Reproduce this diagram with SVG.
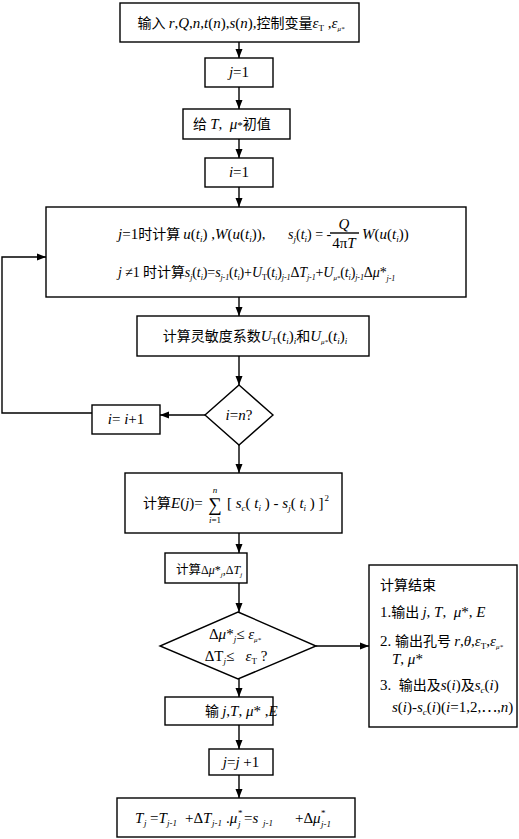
<svg xmlns="http://www.w3.org/2000/svg" width="519" height="839" viewBox="0 0 519 839">
<defs>
<marker id="ah" markerWidth="10" markerHeight="8" refX="9" refY="4" orient="auto" markerUnits="userSpaceOnUse">
<path d="M0,0.5 L9,4 L0,7.5 Z" fill="#000"/>
</marker>
<style>
.box{fill:#fff;stroke:#000;stroke-width:1.4}
.ln{fill:none;stroke:#000;stroke-width:1.4}
.t{font-family:"Liberation Serif","Noto Sans CJK SC",serif;font-size:15px;fill:#000}
.cn{font-family:"Noto Sans CJK SC","Liberation Serif",sans-serif;font-size:14px}
.i{font-style:italic}
.s{font-size:9px}
.s8{font-size:8px}
.s7{font-size:7px}
.m{font-size:14px}
</style>
</defs>
<rect width="519" height="839" fill="#fff"/>
<g id="connectors">
<line class="ln" x1="239" y1="42" x2="239" y2="58" marker-end="url(#ah)"/>
<line class="ln" x1="239" y1="87" x2="239" y2="109" marker-end="url(#ah)"/>
<line class="ln" x1="239" y1="139" x2="239" y2="158" marker-end="url(#ah)"/>
<line class="ln" x1="239" y1="187" x2="239" y2="207" marker-end="url(#ah)"/>
<line class="ln" x1="239" y1="297" x2="239" y2="316" marker-end="url(#ah)"/>
<line class="ln" x1="239" y1="356" x2="239" y2="385" marker-end="url(#ah)"/>
<line class="ln" x1="205" y1="415" x2="160" y2="415" marker-end="url(#ah)"/>
<polyline class="ln" points="92,413 2,413 2,257 46,257" marker-end="url(#ah)"/>
<line class="ln" x1="239" y1="445" x2="239" y2="473" marker-end="url(#ah)"/>
<line class="ln" x1="239" y1="533" x2="239" y2="553" marker-end="url(#ah)"/>
<line class="ln" x1="239" y1="583" x2="239" y2="612" marker-end="url(#ah)"/>
<line class="ln" x1="316" y1="646" x2="369" y2="646" marker-end="url(#ah)"/>
<line class="ln" x1="239" y1="679" x2="239" y2="697" marker-end="url(#ah)"/>
<line class="ln" x1="239" y1="725" x2="239" y2="749" marker-end="url(#ah)"/>
<line class="ln" x1="239" y1="775" x2="239" y2="798" marker-end="url(#ah)"/>
</g>
<g id="n1">
<rect class="box" x="120" y="3" width="239" height="39"/>
<text class="t" x="241" y="28" text-anchor="middle"><tspan class="cn">输入 </tspan><tspan class="i">r</tspan>,<tspan class="i">Q</tspan>,<tspan class="i">n</tspan>,<tspan class="i">t</tspan>(<tspan class="i">n</tspan>),<tspan class="i">s</tspan>(<tspan class="i">n</tspan>),<tspan class="cn">控制变量</tspan><tspan class="i">ε</tspan><tspan class="s" dy="3">T</tspan><tspan dy="-3"> ,</tspan><tspan class="i">ε</tspan><tspan class="s7 i" dy="3">μ*</tspan></text>
</g>
<g id="n2">
<rect class="box" x="205" y="58" width="68" height="29"/>
<text class="t" x="239" y="77" text-anchor="middle"><tspan class="i">j</tspan>=1</text>
</g>
<g id="n3">
<rect class="box" x="183" y="109" width="107" height="30"/>
<text class="t" x="193" y="129"><tspan class="cn">给 </tspan><tspan class="i">T</tspan>,&#160;&#160;<tspan class="i">μ</tspan><tspan style="font-size:11px">*</tspan><tspan class="cn">初值</tspan></text>
</g>
<g id="n4">
<rect class="box" x="205" y="158" width="68" height="29"/>
<text class="t" x="239" y="177" text-anchor="middle"><tspan class="i">i</tspan>=1</text>
</g>
<g id="n5">
<rect class="box" x="46" y="207" width="420" height="90"/>
<text class="t" x="118" y="239"><tspan class="i">j</tspan>=1<tspan class="cn">时计算 </tspan><tspan class="i">u</tspan>(<tspan class="i">t</tspan><tspan class="s i" dy="3">i</tspan><tspan dy="-3">) ,</tspan><tspan class="i">W</tspan>(<tspan class="i">u</tspan>(<tspan class="i">t</tspan><tspan class="s i" dy="3">i</tspan><tspan dy="-3">)),</tspan></text>
<text class="t m" x="288" y="239"><tspan class="i">s</tspan><tspan class="s i" dy="3">j</tspan><tspan dy="-3">(</tspan><tspan class="i">t</tspan><tspan class="s i" dy="3">i</tspan><tspan dy="-3">) = -</tspan></text>
<text class="t" x="344" y="229" text-anchor="middle"><tspan class="i">Q</tspan></text>
<line class="ln" x1="330" y1="233" x2="359" y2="233" stroke-width="1"/>
<text class="t" x="344" y="248" text-anchor="middle">4π<tspan class="i">T</tspan></text>
<text class="t" x="362" y="239"><tspan class="i">W</tspan>(<tspan class="i">u</tspan>(<tspan class="i">t</tspan><tspan class="s i" dy="3">i</tspan><tspan dy="-3">))</tspan></text>
<text class="t m" x="118" y="277" letter-spacing="-0.1"><tspan class="i">j</tspan> ≠1 <tspan class="cn">时计算</tspan><tspan class="i">s</tspan><tspan class="s8 i" dy="3">j</tspan><tspan dy="-3">(</tspan><tspan class="i">t</tspan><tspan class="s8 i" dy="3">i</tspan><tspan dy="-3">)=</tspan><tspan class="i">s</tspan><tspan class="s8 i" dy="3">j-1</tspan><tspan dy="-3">(</tspan><tspan class="i">t</tspan><tspan class="s8 i" dy="3">i</tspan><tspan dy="-3">)+</tspan><tspan class="i">U</tspan><tspan class="s8" dy="3">T</tspan><tspan dy="-3">(</tspan><tspan class="i">t</tspan><tspan class="s8 i" dy="3">i</tspan><tspan dy="-3">)</tspan><tspan class="s8 i" dy="3">j-1</tspan><tspan dy="-3">Δ</tspan><tspan class="i">T</tspan><tspan class="s8 i" dy="3">j-1</tspan><tspan dy="-3">+</tspan><tspan class="i">U</tspan><tspan class="s7 i" dy="3">μ*</tspan><tspan dy="-3">(</tspan><tspan class="i">t</tspan><tspan class="s8 i" dy="3">i</tspan><tspan dy="-3">)</tspan><tspan class="s8 i" dy="3">j-1</tspan><tspan dy="-3">Δ</tspan><tspan class="i">μ</tspan>*<tspan class="s8 i" dy="4">j-1</tspan></text>
</g>
<g id="n6">
<rect class="box" x="137" y="316" width="232" height="40"/>
<text class="t" x="255" y="341" text-anchor="middle"><tspan class="cn">计算灵敏度系数</tspan><tspan class="i">U</tspan><tspan class="s" dy="3">T</tspan><tspan dy="-3">(</tspan><tspan class="i">t</tspan><tspan class="s i" dy="3">i</tspan><tspan dy="-3">)</tspan><tspan class="s i" dy="3">i</tspan><tspan class="cn" dy="-3">和</tspan><tspan class="i">U</tspan><tspan class="s7 i" dy="3">μ*</tspan><tspan dy="-3">(</tspan><tspan class="i">t</tspan><tspan class="s i" dy="3">i</tspan><tspan dy="-3">)</tspan><tspan class="s i" dy="3">i</tspan></text>
</g>
<g id="n7">
<polygon class="box" points="239,385 273,415 239,445 205,415"/>
<text class="t" x="239" y="420" text-anchor="middle"><tspan class="i">i</tspan>=<tspan class="i">n</tspan>?</text>
</g>
<g id="n8">
<rect class="box" x="92" y="405" width="68" height="29"/>
<text class="t" x="126" y="424" text-anchor="middle"><tspan class="i">i</tspan>= <tspan class="i">i</tspan>+1</text>
</g>
<g id="n9">
<rect class="box" x="125" y="473" width="217" height="60"/>
<text class="t" x="143" y="508"><tspan class="cn">计算</tspan><tspan class="i">E</tspan>(<tspan class="i">j</tspan>)=</text>
<text class="t" x="215" y="511" text-anchor="middle" style="font-size:19px">∑</text>
<text class="t s i" x="215" y="493" text-anchor="middle">n</text>
<text class="t s" x="215" y="523" text-anchor="middle"><tspan class="i">i</tspan>=1</text>
<text class="t" x="227" y="508">[ <tspan class="i">s</tspan><tspan class="s i" dy="3">c</tspan><tspan dy="-3">( </tspan><tspan class="i">t</tspan><tspan class="s i" dy="3">i</tspan><tspan dy="-3"> ) - </tspan><tspan class="i">s</tspan><tspan class="s i" dy="3">j</tspan><tspan dy="-3">( </tspan><tspan class="i">t</tspan><tspan class="s i" dy="3">i</tspan><tspan dy="-3"> ) ]</tspan><tspan class="s" dy="-7" dx="1">2</tspan></text>
</g>
<g id="n10">
<rect class="box" x="165" y="553" width="82" height="30"/>
<text class="t" x="176" y="574" style="font-size:12px"><tspan class="cn" style="font-size:12.5px">计算</tspan>Δ<tspan class="i">μ</tspan>*<tspan class="s7 i" dy="3">j</tspan><tspan dy="-3">,Δ</tspan><tspan class="i">T</tspan><tspan class="s7 i" dy="3">j</tspan></text>
</g>
<g id="n11">
<polygon class="box" points="238,612 316,646 238,679 160,646"/>
<text class="t" x="235" y="639" text-anchor="middle">Δ<tspan class="i">μ</tspan>*<tspan class="s i" dy="3">j</tspan><tspan dy="-3">≤ </tspan><tspan class="i">ε</tspan><tspan class="s7 i" dy="3">μ*</tspan></text>
<text class="t" x="236" y="661" text-anchor="middle">ΔT<tspan class="s i" dy="3">j</tspan><tspan dy="-3">≤&#160;&#160;&#160;</tspan><tspan class="i">ε</tspan><tspan class="s" dy="3">T</tspan><tspan dy="-3"> ?</tspan></text>
</g>
<g id="n12">
<rect class="box" x="369" y="565" width="148" height="162"/>
<text class="t" x="380" y="590"><tspan class="cn">计算结束</tspan></text>
<text class="t" x="380" y="617">1.<tspan class="cn">输出 </tspan><tspan class="i">j</tspan>, <tspan class="i">T</tspan>,&#160;&#160;<tspan class="i">μ</tspan>*, <tspan class="i">E</tspan></text>
<text class="t" x="380" y="646">2. <tspan class="cn">输出孔号 </tspan><tspan class="i">r</tspan>,<tspan class="i">θ</tspan>,<tspan class="i">ε</tspan><tspan class="s" dy="3">T</tspan><tspan dy="-3">,</tspan><tspan class="i">ε</tspan><tspan class="s7 i" dy="3">μ*</tspan></text>
<text class="t" x="392" y="664"><tspan class="i">T</tspan>, <tspan class="i">μ</tspan>*</text>
<text class="t" x="380" y="690">3.&#160;&#160;<tspan class="cn">输出及</tspan><tspan class="i">s</tspan>(<tspan class="i">i</tspan>)<tspan class="cn">及</tspan><tspan class="i">s</tspan><tspan class="s i" dy="3">c</tspan><tspan dy="-3">(</tspan><tspan class="i">i</tspan>)</text>
<text class="t" x="392" y="712"><tspan class="i">s</tspan>(<tspan class="i">i</tspan>)-<tspan class="i">s</tspan><tspan class="s i" dy="3">c</tspan><tspan dy="-3">(</tspan><tspan class="i">i</tspan>)(<tspan class="i">i</tspan>=1,2,⋯,<tspan class="i">n</tspan>)</text>
</g>
<g id="n13">
<rect class="box" x="165" y="697" width="108" height="28"/>
<text class="t" x="205" y="716"><tspan class="cn">输 </tspan><tspan class="i">j</tspan>,<tspan class="i">T</tspan>, <tspan class="i">μ</tspan>* ,<tspan class="i">E</tspan></text>
</g>
<g id="n14">
<rect class="box" x="209" y="749" width="64" height="26"/>
<text class="t" x="241" y="767" text-anchor="middle"><tspan class="i">j</tspan>=<tspan class="i">j</tspan> +1</text>
</g>
<g id="n15">
<rect class="box" x="117" y="798" width="238" height="39"/>
<text class="t i" x="135" y="823">T</text>
<text class="t s i" x="144" y="826">j</text>
<text class="t" x="150" y="823">=<tspan class="i">T</tspan></text>
<text class="t s i" x="167" y="826">j-1</text>
<text class="t" x="185" y="823">+Δ<tspan class="i">T</tspan></text>
<text class="t s i" x="212" y="826">j-1</text>
<text class="t" x="226" y="823">.<tspan class="i">μ</tspan></text>
<text class="t s" x="238" y="816">*</text>
<text class="t s i" x="238" y="827">j</text>
<text class="t" x="244" y="823">=<tspan class="i">s</tspan></text>
<text class="t s i" x="263" y="826">j-1</text>
<text class="t" x="295" y="823">+Δ<tspan class="i">μ</tspan></text>
<text class="t s" x="321" y="816">*</text>
<text class="t s i" x="321" y="827">j-1</text>
</g>
</svg>
